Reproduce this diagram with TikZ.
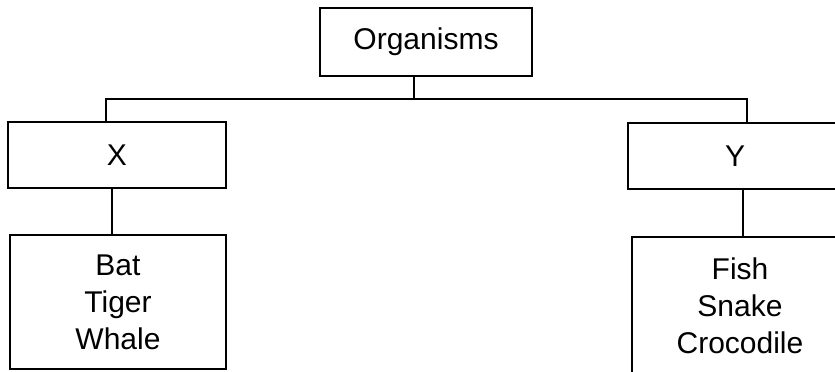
\documentclass[tikz,border=0pt]{standalone}
\usepackage{fontspec}
\setmainfont{Liberation Sans}
\usetikzlibrary{positioning,calc}

\begin{document}
\begin{tikzpicture}[
  x=1pt, y=-1pt,
  font=\fontsize{30}{37}\selectfont,
  box/.style={draw=black, line width=1.5pt, align=center, inner sep=0pt},
  group/.style={box, minimum width=216pt, minimum height=66pt},
  members/.style={box, minimum width=216pt, minimum height=134pt},
  link/.style={draw=black, line width=1.5pt},
]
\useasboundingbox (0,0) rectangle (835,372);
\clip (0,0) rectangle (835,372);

% ---- root ----
\node[box, minimum width=212pt, minimum height=68pt] (org) at (426,42) {Organisms};

% ---- groups ----
\node[group, minimum width=218pt] (x) at (117,155) {X};
\node[group, minimum width=214pt] (y) at (735,156) {Y};

% ---- members ----
\node[members] (xlist) at (118,302) {Bat\\Tiger\\Whale};
\node[members, minimum height=138pt] (ylist) at (740,306) {Fish\\Snake\\Crocodile};

% ---- connectors ----
\coordinate (bus) at (414,99);
\draw[link] ([xshift=-12pt]org.south) -- (bus);
\draw[link] ([xshift=-11pt]x.north) |- (bus) -| ([xshift=12pt]y.north);
\draw[link] ([xshift=-5pt]x.south) -- ([xshift=-6pt]xlist.north);
\draw[link] ([xshift=8pt]y.south) -- ([xshift=3pt]ylist.north);
\end{tikzpicture}
\end{document}
